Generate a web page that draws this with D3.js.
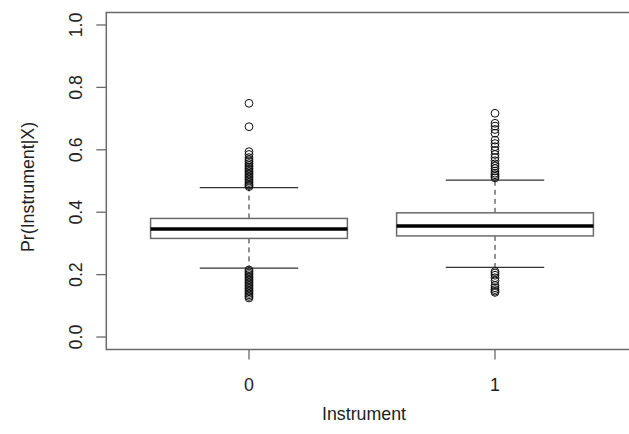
<!DOCTYPE html>
<html>
<head>
<meta charset="utf-8">
<script src="https://cdn.jsdelivr.net/npm/d3@7"></script>
<style>
  body { margin: 0; background: #fff; }
  svg { display: block; font-family: "Liberation Sans", Arial, sans-serif; }
</style>
</head>
<body>
<div id="chart"></div>
<script>
// groups on the x axis
const categories = ['0', '1'];

// box statistics per group: lower whisker, q1, median, q3, upper whisker
const whiskerLow = [0.221, 0.223];
const q1 = [0.316, 0.324];
const medians = [0.346, 0.356];
const q3 = [0.380, 0.398];
const whiskerHigh = [0.479, 0.503];

// outliers per group
const outliers0 = [0.749, 0.674, 0.594, 0.585, 0.575, 0.568, 0.562, 0.556, 0.55, 0.545,
  0.54, 0.535, 0.53, 0.525, 0.52, 0.515, 0.51, 0.505, 0.50, 0.495, 0.49, 0.486, 0.482,
  0.215, 0.21, 0.205, 0.2, 0.195, 0.19, 0.185, 0.18, 0.175, 0.17, 0.165, 0.16, 0.155,
  0.15, 0.145, 0.14, 0.135, 0.13, 0.125];
const outliers1 = [0.717, 0.685, 0.676, 0.665, 0.653, 0.631, 0.62, 0.61, 0.598, 0.585,
  0.575, 0.565, 0.555, 0.548, 0.54, 0.532, 0.525, 0.52, 0.515, 0.51,
  0.21, 0.205, 0.198, 0.19, 0.18, 0.165, 0.158, 0.152, 0.147, 0.143];

const yTicks = [0, 0.2, 0.4, 0.6, 0.8, 1.0];

const width = 629;
const height = 434;

// plot region (R style, extends past the right edge of the picture)
const plotLeft = 106.3, plotRight = 637.7, plotTop = 12.5, plotBottom = 349.5;

const svg = d3.select('#chart').append('svg')
  .attr('width', width)
  .attr('height', height);

// x positions in group units, as in R boxplot (1..n)
const x = d3.scaleLinear().domain([0.42, 2.58]).range([plotLeft, plotRight]);
const y = d3.scaleLinear().domain([-0.04, 1.04]).range([plotBottom, plotTop]);

const boxes = categories.map((c, i) => ({
  cat: c,
  pos: i + 1,
  lo: whiskerLow[i],
  q1: q1[i],
  med: medians[i],
  q3: q3[i],
  hi: whiskerHigh[i],
  out: i === 0 ? outliers0 : outliers1
}));

const boxHalf = 0.4;
const capHalf = 0.2;
const grey = '#6a6a6a';
const fontSize = 17.8;

const g = svg.append('g');

boxes.forEach(b => {
  const cx = x(b.pos);
  // whiskers
  g.append('line')
    .attr('x1', cx).attr('x2', cx)
    .attr('y1', y(b.q3)).attr('y2', y(b.hi))
    .attr('stroke', '#222').attr('stroke-dasharray', '5,4');
  g.append('line')
    .attr('x1', cx).attr('x2', cx)
    .attr('y1', y(b.q1)).attr('y2', y(b.lo))
    .attr('stroke', '#222').attr('stroke-dasharray', '5,4');
  // caps
  [b.lo, b.hi].forEach(v => {
    g.append('line')
      .attr('x1', x(b.pos - capHalf)).attr('x2', x(b.pos + capHalf))
      .attr('y1', y(v)).attr('y2', y(v))
      .attr('stroke', '#333').attr('stroke-width', 1.2);
  });
  // box
  g.append('rect')
    .attr('x', x(b.pos - boxHalf))
    .attr('y', y(b.q3))
    .attr('width', x(b.pos + boxHalf) - x(b.pos - boxHalf))
    .attr('height', y(b.q1) - y(b.q3))
    .attr('fill', '#fff')
    .attr('stroke', grey)
    .attr('stroke-width', 1.5);
  // median
  g.append('line')
    .attr('x1', x(b.pos - boxHalf)).attr('x2', x(b.pos + boxHalf))
    .attr('y1', y(b.med)).attr('y2', y(b.med))
    .attr('stroke', '#000').attr('stroke-width', 3.5);
  // outliers
  g.selectAll(null).data(b.out).enter()
    .append('circle')
    .attr('cx', cx)
    .attr('cy', d => y(d))
    .attr('r', 3.9)
    .attr('fill', 'none')
    .attr('stroke', '#111')
    .attr('stroke-width', 1);
});

// frame
svg.append('rect')
  .attr('x', plotLeft).attr('y', plotTop)
  .attr('width', plotRight - plotLeft).attr('height', plotBottom - plotTop)
  .attr('fill', 'none')
  .attr('stroke', grey)
  .attr('stroke-width', 1.5);

// y axis ticks and labels
yTicks.forEach(t => {
  svg.append('line')
    .attr('x1', plotLeft - 10).attr('x2', plotLeft)
    .attr('y1', y(t)).attr('y2', y(t))
    .attr('stroke', grey).attr('stroke-width', 1.3);
  svg.append('text')
    .attr('transform', `translate(82,${y(t)}) rotate(-90)`)
    .attr('text-anchor', 'middle')
    .attr('font-size', fontSize)
    .attr('fill', '#222')
    .text(t.toFixed(1));
});

// x axis ticks and labels
boxes.forEach(b => {
  svg.append('line')
    .attr('x1', x(b.pos)).attr('x2', x(b.pos))
    .attr('y1', plotBottom).attr('y2', plotBottom + 10)
    .attr('stroke', grey).attr('stroke-width', 1.3);
  svg.append('text')
    .attr('x', x(b.pos)).attr('y', 391)
    .attr('text-anchor', 'middle')
    .attr('font-size', fontSize)
    .attr('fill', '#222')
    .text(b.cat);
});

// axis titles
svg.append('text')
  .attr('x', 364).attr('y', 420)
  .attr('text-anchor', 'middle')
  .attr('font-size', fontSize)
  .attr('fill', '#222')
  .text('Instrument');

svg.append('text')
  .attr('transform', 'translate(34,187) rotate(-90)')
  .attr('text-anchor', 'middle')
  .attr('font-size', fontSize)
  .attr('fill', '#222')
  .text('Pr(Instrument|X)');
</script>
</body>
</html>
